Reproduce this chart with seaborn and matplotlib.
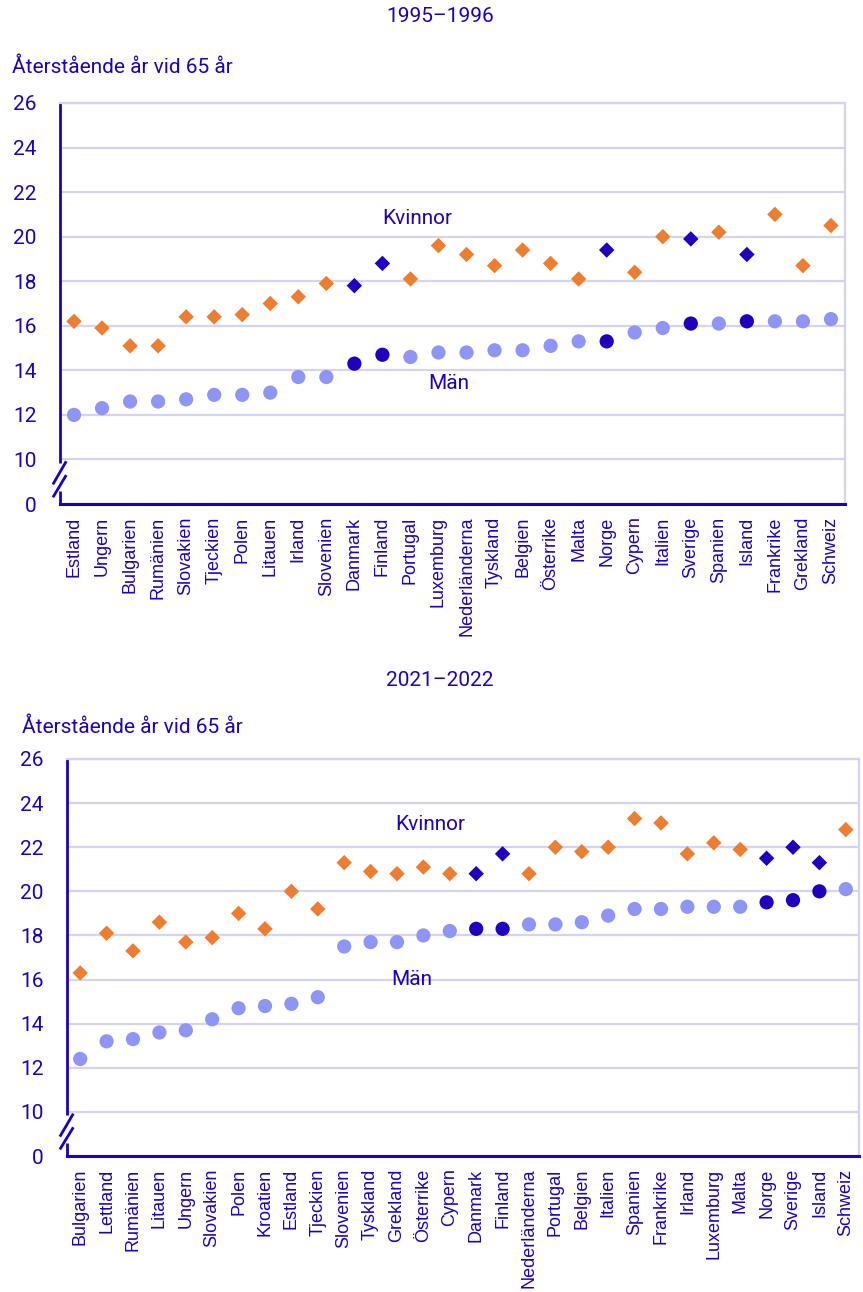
import numpy as np
import pandas as pd
import seaborn as sns
import matplotlib.pyplot as plt

# colours
MORKBLA = '#1E00BE'
ORANGE = '#ED7D31'
LJUSLILA = '#8F95F4'
GRID = '#D4D4F2'

# 1995-1996
lander_1995 = ['Estland', 'Ungern', 'Bulgarien', 'Rumänien', 'Slovakien', 'Tjeckien', 'Polen',
               'Litauen', 'Irland', 'Slovenien', 'Danmark', 'Finland', 'Portugal', 'Luxemburg',
               'Nederländerna', 'Tyskland', 'Belgien', 'Österrike', 'Malta', 'Norge', 'Cypern',
               'Italien', 'Sverige', 'Spanien', 'Island', 'Frankrike', 'Grekland', 'Schweiz']
kvinnor_1995 = [16.2, 15.9, 15.1, 15.1, 16.4, 16.4, 16.5, 17.0, 17.3, 17.9, 17.8, 18.8, 18.1, 19.6,
                19.2, 18.7, 19.4, 18.8, 18.1, 19.4, 18.4, 20.0, 19.9, 20.2, 19.2, 21.0, 18.7, 20.5]
man_1995 = [12.0, 12.3, 12.6, 12.6, 12.7, 12.9, 12.9, 13.0, 13.7, 13.7, 14.3, 14.7, 14.6, 14.8,
            14.8, 14.9, 14.9, 15.1, 15.3, 15.3, 15.7, 15.9, 16.1, 16.1, 16.2, 16.2, 16.2, 16.3]

# 2021-2022
lander_2021 = ['Bulgarien', 'Lettland', 'Rumänien', 'Litauen', 'Ungern', 'Slovakien', 'Polen',
               'Kroatien', 'Estland', 'Tjeckien', 'Slovenien', 'Tyskland', 'Grekland', 'Österrike',
               'Cypern', 'Danmark', 'Finland', 'Nederländerna', 'Portugal', 'Belgien', 'Italien',
               'Spanien', 'Frankrike', 'Irland', 'Luxemburg', 'Malta', 'Norge', 'Sverige',
               'Island', 'Schweiz']
kvinnor_2021 = [16.3, 18.1, 17.3, 18.6, 17.7, 17.9, 19.0, 18.3, 20.0, 19.2, 21.3, 20.9, 20.8, 21.1,
                20.8, 20.8, 21.7, 20.8, 22.0, 21.8, 22.0, 23.3, 23.1, 21.7, 22.2, 21.9, 21.5,
                22.0, 21.3, 22.8]
man_2021 = [12.4, 13.2, 13.3, 13.6, 13.7, 14.2, 14.7, 14.8, 14.9, 15.2, 17.5, 17.7, 17.7, 18.0,
            18.2, 18.3, 18.3, 18.5, 18.5, 18.6, 18.9, 19.2, 19.2, 19.3, 19.3, 19.3, 19.5, 19.6,
            20.0, 20.1]

norden = ['Danmark', 'Finland', 'Norge', 'Sverige', 'Island']
y_ticks = [0, 10, 12, 14, 16, 18, 20, 22, 24, 26]
y_label = 'Återstående år vid 65 år'


# broken axis: 0-10 squeezed into one grid step
def fram(y):
    y = np.asarray(y, dtype=float)
    return np.where(y <= 10, y * 0.2, y - 8)


def bak(z):
    z = np.asarray(z, dtype=float)
    return np.where(z <= 2, z * 5, z + 8)


def rita_panel(ax, lander, kvinnor, man, kv_pos, man_pos):
    n = len(lander)
    df = pd.DataFrame({'land': lander, 'pos': np.arange(n), 'Kvinnor': kvinnor, 'Män': man})
    df = df.melt(id_vars=['land', 'pos'], var_name='kon', value_name='ar')
    df['farg'] = np.where(df['land'].isin(norden), 'Norden', df['kon'])

    palett = {'Kvinnor': ORANGE, 'Män': LJUSLILA, 'Norden': MORKBLA}
    sns.scatterplot(data=df[df['kon'] == 'Män'], x='pos', y='ar', hue='farg', palette=palett,
                    marker='o', s=105, linewidth=0, legend=False, ax=ax, zorder=3)
    sns.scatterplot(data=df[df['kon'] == 'Kvinnor'], x='pos', y='ar', hue='farg', palette=palett,
                    marker='D', s=62, linewidth=0, legend=False, ax=ax, zorder=3)

    ax.set_yscale('function', functions=(fram, bak))
    ax.set_ylim(0, 26)
    ax.set_xlim(-0.5, n - 0.5)
    ax.set_yticks(y_ticks)
    ax.set_yticklabels([str(t) for t in y_ticks])
    ax.set_xticks(np.arange(n))
    ax.set_xticklabels(lander, rotation=90, family='Liberation Sans', fontsize=13, color=MORKBLA)
    ax.set_xticks(np.arange(n + 1) - 0.5, minor=True)
    ax.set_xlabel('')
    ax.set_ylabel('')

    ax.yaxis.grid(True, color=GRID, lw=1.6)
    ax.xaxis.grid(False)
    ax.set_axisbelow(True)

    ax.tick_params(axis='y', length=7, width=2, color=MORKBLA, pad=10, labelsize=15,
                   labelcolor=MORKBLA)
    ax.tick_params(axis='x', which='major', length=0, pad=9)
    ax.tick_params(axis='x', which='minor', length=6, width=2, color=MORKBLA)

    for s in ['top', 'right']:
        ax.spines[s].set_color(GRID)
        ax.spines[s].set_linewidth(1.6)
    ax.spines['bottom'].set_color(MORKBLA)
    ax.spines['bottom'].set_linewidth(2.2)
    ax.spines['left'].set_visible(False)

    # left spine in two pieces with a break mark
    tr = ax.get_yaxis_transform()
    kw = dict(transform=tr, clip_on=False, color=MORKBLA, lw=2, solid_capstyle='butt')
    ax.plot([0, 0], [9.3, 26], **kw)
    ax.plot([0, 0], [0, 3.0], **kw)
    ax.plot([-0.009, 0.008], [4.4, 9.6], **kw)
    ax.plot([-0.009, 0.008], [1.5, 6.5], **kw)

    ax.text(kv_pos[0], kv_pos[1], 'Kvinnor', color=MORKBLA, fontsize=15, ha='left', va='center')
    ax.text(man_pos[0], man_pos[1], 'Män', color=MORKBLA, fontsize=15, ha='left', va='center')


sns.set_style('white')
plt.rcParams['font.family'] = ['Roboto', 'DejaVu Sans']

W, H = 863, 1292
fig = plt.figure(figsize=(W / 100, H / 100), dpi=100)
ax1 = fig.add_axes([60 / W, 1 - 504 / H, 785 / W, 401 / H])
ax2 = fig.add_axes([67 / W, 1 - 1156 / H, 792 / W, 397 / H])

rita_panel(ax1, lander_1995, kvinnor_1995, man_1995, (10.98, 20.8), (12.65, 13.4))
rita_panel(ax2, lander_2021, kvinnor_2021, man_2021, (11.93, 23.05), (11.8, 16.0))

fig.text(440 / W, 1 - 17 / H, '1995–1996', ha='center', va='center', fontsize=15, color=MORKBLA)
fig.text(12 / W, 1 - 67 / H, y_label, ha='left', va='center', fontsize=15, color=MORKBLA)
fig.text(440 / W, 1 - 680 / H, '2021–2022', ha='center', va='center', fontsize=15, color=MORKBLA)
fig.text(22 / W, 1 - 727 / H, y_label, ha='left', va='center', fontsize=15, color=MORKBLA)

fig.savefig('out.png', dpi=100, facecolor='white')
